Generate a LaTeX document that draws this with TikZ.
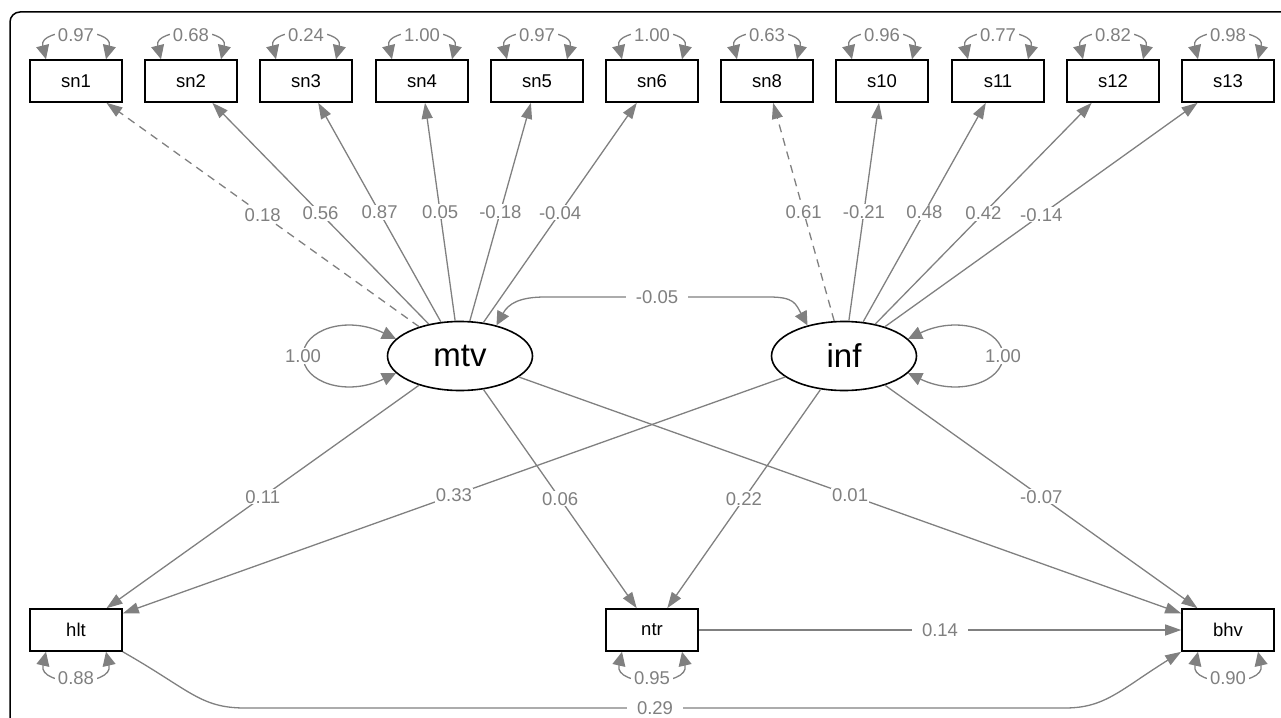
\documentclass[tikz,border=0pt]{standalone}
\usepackage{fontspec}
\setmainfont{Liberation Sans}
\usetikzlibrary{arrows.meta}
\usetikzlibrary{shapes.geometric}
\definecolor{semgray}{HTML}{808080}

\begin{document}
\begin{tikzpicture}[x=1pt, y=-1pt,
    obs/.style={draw=black, line width=1.6pt, minimum width=92pt, minimum height=42pt,
      inner sep=0pt, font=\fontsize{18.5}{20}\selectfont},
    lat/.style={draw=black, ellipse, line width=1.6pt, minimum width=145pt, minimum height=69pt,
      inner sep=0pt, font=\fontsize{33}{36}\selectfont},
    reg/.style={draw=semgray, line width=1.3pt, -{Triangle[length=16pt, width=11pt]}},
    dbl/.style={draw=semgray, line width=1.3pt,
      {Triangle[length=14pt, width=13pt]}-{Triangle[length=14pt, width=13pt]}},
    lbl/.style={fill=white, text=semgray, inner sep=1pt, font=\fontsize{18.5}{20}\selectfont},
    wide/.style={inner xsep=10pt}]
  \useasboundingbox (0,0) rectangle (1281,717);
  \draw[line width=1.5pt, rounded corners=10pt] (10,12) rectangle (1300,740);

  % indicators
  \node[obs] (sn1) at (76,81) {sn1};
  \node[obs] (sn2) at (191,81) {sn2};
  \node[obs] (sn3) at (306,81) {sn3};
  \node[obs] (sn4) at (422,81) {sn4};
  \node[obs] (sn5) at (537,81) {sn5};
  \node[obs] (sn6) at (652,81) {sn6};
  \node[obs] (sn8) at (767,81) {sn8};
  \node[obs] (s10) at (882,81) {s10};
  \node[obs] (s11) at (998,81) {s11};
  \node[obs] (s12) at (1113,81) {s12};
  \node[obs] (s13) at (1228,81) {s13};

  % latent
  \node[lat] (mtv) at (460,356) {mtv};
  \node[lat] (inf) at (844,356) {inf};

  % outcomes
  \node[obs] (hlt) at (76,630) {hlt};
  \node[obs] (ntr) at (652,630) {ntr};
  \node[obs] (bhv) at (1228,630) {bhv};

  % residual variances
  \foreach \v/\val in {sn1/0.97, sn2/0.68, sn3/0.24, sn4/1.00, sn5/0.97, sn6/1.00,
                       sn8/0.63, s10/0.96, s11/0.77, s12/0.82, s13/0.98}
    \draw[dbl] ([xshift=-30pt]\v.north) .. controls +(-8,-32) and +(8,-32) .. ([xshift=30pt]\v.north)
      node[lbl, pos=0.5, inner xsep=3pt] {\val};
  \foreach \v/\val in {hlt/0.88, ntr/0.95, bhv/0.90}
    \draw[dbl] ([xshift=-30pt]\v.south) .. controls +(-8,35) and +(8,35) .. ([xshift=30pt]\v.south)
      node[lbl, pos=0.5, inner xsep=3pt] {\val};

  % latent variances and covariance
  \draw[dbl] (mtv.165) .. controls +(-50,-24) and +(0,-26) .. (303,356) node[lbl] {1.00}
    .. controls +(0,26) and +(-50,24) .. (mtv.195);
  \draw[dbl] (inf.15) .. controls +(50,-24) and +(0,-26) .. (1003,356) node[lbl] {1.00}
    .. controls +(0,26) and +(50,24) .. (inf.-15);
  \draw[dbl] (mtv.40) .. controls +(12,-22) and +(-25,0) .. (545,297)
    -- node[lbl, wide] {-0.05} (769,297) .. controls +(25,0) and +(-12,-22) .. (inf.140);

  % loadings
  \draw[reg, dashed, dash pattern=on 8pt off 6pt] (mtv) -- (sn1) node[lbl, midway] {0.18};
  \draw[reg] (mtv) -- (sn2) node[lbl, midway] {0.56};
  \draw[reg] (mtv) -- (sn3) node[lbl, midway] {0.87};
  \draw[reg] (mtv) -- (sn4) node[lbl, midway] {0.05};
  \draw[reg] (mtv) -- (sn5) node[lbl, midway] {-0.18};
  \draw[reg] (mtv) -- (sn6) node[lbl, midway] {-0.04};
  \draw[reg, dashed, dash pattern=on 8pt off 6pt] (inf) -- (sn8) node[lbl, midway] {0.61};
  \draw[reg] (inf) -- (s10) node[lbl, midway] {-0.21};
  \draw[reg] (inf) -- (s11) node[lbl, midway] {0.48};
  \draw[reg] (inf) -- (s12) node[lbl, midway] {0.42};
  \draw[reg] (inf) -- (s13) node[lbl, midway] {-0.14};

  % regressions
  \draw[reg] (mtv) -- (hlt) node[lbl, midway] {0.11};
  \draw[reg] (mtv) -- (ntr) node[lbl, midway] {0.06};
  \draw[reg] (mtv) -- (bhv) node[lbl, midway] {0.01};
  \draw[reg] (inf) -- (hlt) node[lbl, midway] {0.33};
  \draw[reg] (inf) -- (ntr) node[lbl, midway] {0.22};
  \draw[reg] (inf) -- (bhv) node[lbl, midway] {-0.07};
  \draw[reg] (ntr) -- (bhv) node[lbl, wide, midway] {0.14};
  \draw[reg] (hlt.south east) .. controls (190,690) and (200,708) .. (245,708)
    -- node[lbl, wide] {0.29} (1065,708) .. controls (1105,708) and (1120,690) .. (bhv.south west);
\end{tikzpicture}
\end{document}
